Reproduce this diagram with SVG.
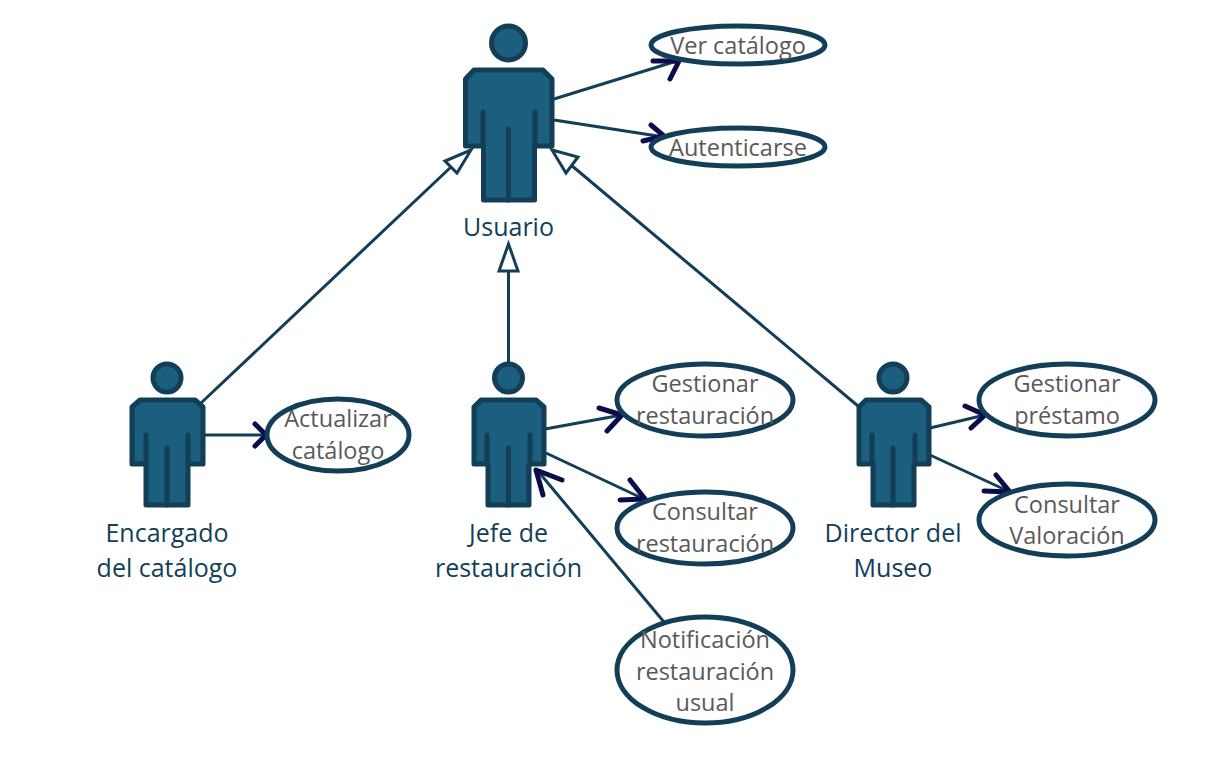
<svg xmlns="http://www.w3.org/2000/svg" width="1228" height="784" viewBox="0 0 1228 784">
<style>
text{font-family:"Open Sans","Noto Sans","Liberation Sans",sans-serif;text-anchor:middle}
.a{fill:#1b5e7e;stroke:#123f57;stroke-width:5;stroke-linejoin:round;stroke-linecap:round}
.u{fill:#fff;stroke:#123f57;stroke-width:5}
.n{fill:#123f57;font-size:25px}
.t{fill:#595959;font-size:23.500px}
.c{fill:none;stroke:#123f57;stroke-width:3}
.h{fill:none;stroke:#0c0c4c;stroke-width:5;stroke-linecap:round;stroke-linejoin:miter}
.g{fill:#fff;stroke:#123f57;stroke-width:3}
</style>
<rect width="1228" height="784" fill="#fff"/>
<g id="connectors">
<path class="c" d="M201 403L451 167M508.500 362V272M858 406L571 165M554 99L680 60M554 120L664 137M204 435H266M545 429L622 415M546 453L646 500M664 622L537 470M930 428L985 415M930 455L1010 492"/>
<path class="g" d="M471 150L445 161L457 173Z"/>
<path class="g" d="M552 150L578 157L566 173Z"/>
<path class="g" d="M508.500 244L499 271H518Z"/>
<path class="h" d="M653 61L679 61L670 79M651 125L664 136L643 141M255 424L266 435L255 446M599 408L622 415L607 431M630 480L645 499L620 500M536 470L543 495M536 470L562 480M965 406L985 415L971 428M1010 492L984 491M1010 492L996 475"/>
</g>
<g id="usuario">
<circle class="a" cx="508.500" cy="43" r="17"/>
<path class="a" d="M474 70H543L552 79V146H534.500V200H483.500V146H465.500V79Z"/>
<path class="a" d="M483 112V146M535 112V146M508.500 129V200"/>
<text class="n" x="508.500" y="236">Usuario</text>
</g>
<g id="encargado">
<circle class="a" cx="167" cy="378" r="14"/>
<path class="a" d="M140 400H195L203 407V464H188V505H146V464H132V407Z"/>
<path class="a" d="M146 435V464M188 435V464M167 448V505"/>
<text class="n" x="167" y="542">Encargado</text>
<text class="n" x="167" y="577">del catálogo</text>
</g>
<g id="jefe">
<circle class="a" cx="508.500" cy="378" r="14"/>
<path class="a" d="M481 400H536L544 407V464H529V505H488V464H474V407Z"/>
<path class="a" d="M487 435V464M530 435V464M508.500 448V505"/>
<text class="n" x="508.500" y="542">Jefe de</text>
<text class="n" x="508.500" y="577">restauración</text>
</g>
<g id="director">
<circle class="a" cx="893" cy="378" r="14"/>
<path class="a" d="M866 400H921L929 407V464H914V505H873V464H859V407Z"/>
<path class="a" d="M872 435V464M915 435V464M893 448V505"/>
<text class="n" x="893" y="542">Director del</text>
<text class="n" x="893" y="577">Museo</text>
</g>
<g id="ver"><ellipse class="u" cx="738" cy="45" rx="87" ry="19"/><text class="t" x="738" y="54">Ver catálogo</text></g>
<g id="autenticarse"><ellipse class="u" cx="738" cy="147" rx="87" ry="19"/><text class="t" x="738" y="156">Autenticarse</text></g>
<g id="actualizar"><ellipse class="u" cx="338" cy="435" rx="71" ry="36"/><text class="t" x="338" y="427">Actualizar</text><text class="t" x="338" y="459">catálogo</text></g>
<g id="gestionar-r"><ellipse class="u" cx="705" cy="400" rx="88" ry="36"/><text class="t" x="705" y="392">Gestionar</text><text class="t" x="705" y="424">restauración</text></g>
<g id="consultar-r"><ellipse class="u" cx="705" cy="528" rx="88" ry="36"/><text class="t" x="705" y="520">Consultar</text><text class="t" x="705" y="552">restauración</text></g>
<g id="notificacion"><ellipse class="u" cx="705" cy="670" rx="88" ry="53"/><text class="t" x="705" y="648">Notificación</text><text class="t" x="705" y="680">restauración</text><text class="t" x="705" y="711">usual</text></g>
<g id="gestionar-p"><ellipse class="u" cx="1067" cy="400" rx="88" ry="36"/><text class="t" x="1067" y="392">Gestionar</text><text class="t" x="1067" y="424">préstamo</text></g>
<g id="consultar-v"><ellipse class="u" cx="1067" cy="520" rx="88" ry="36"/><text class="t" x="1067" y="513">Consultar</text><text class="t" x="1067" y="544">Valoración</text></g>
</svg>
